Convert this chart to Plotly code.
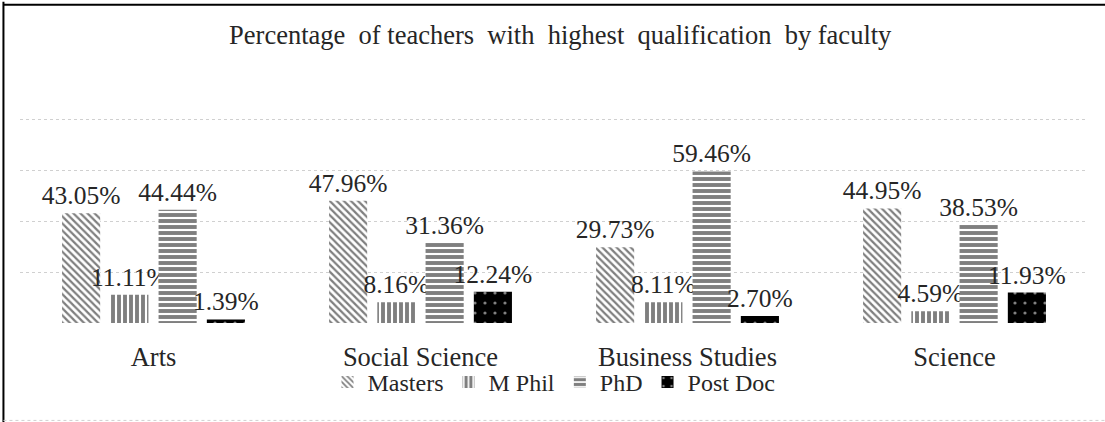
import plotly.graph_objects as go

categories = ["Arts", "Social Science", "Business Studies", "Science"]
series_names = ["Masters", "M Phil", "PhD", "Post Doc"]
masters = [43.05, 47.96, 29.73, 44.95]
mphil = [11.11, 8.16, 8.11, 4.59]
phd = [44.44, 31.36, 59.46, 38.53]
postdoc = [1.39, 12.24, 2.70, 11.93]
values = [masters, mphil, phd, postdoc]

patterns = [
    dict(shape="\\", size=5, solidity=0.45, fgcolor="black", bgcolor="white"),
    dict(shape="|", size=6, solidity=0.65, fgcolor="black", bgcolor="white"),
    dict(shape="-", size=6, solidity=0.65, fgcolor="black", bgcolor="white"),
    dict(shape=".", size=10, solidity=0.08, fgcolor="white", bgcolor="black"),
]

FONT = "Liberation Serif, Times New Roman, serif"
TXT = "#262626"

fig = go.Figure()
for name, vals, pat in zip(series_names, values, patterns):
    fig.add_trace(go.Bar(
        name=name, x=categories, y=vals,
        marker=dict(color="black", pattern=pat, line=dict(width=0)),
        text=[f"{v:.2f}%" for v in vals],
        textposition="outside",
        constraintext="none",
        textfont=dict(family=FONT, size=25.5, color=TXT),
        cliponaxis=False,
    ))

fig.update_layout(
    width=1105, height=422,
    margin=dict(l=20, r=17, t=68, b=99),
    paper_bgcolor="white", plot_bgcolor="white",
    barmode="group", bargap=0.277, bargroupgap=0.21,
    font=dict(family=FONT, color=TXT),
    title=dict(text="Percentage  of teachers  with  highest  qualification  by faculty",
               x=0.507, xref="container", y=0.918, yref="container", yanchor="middle",
               font=dict(family=FONT, size=26.5, color=TXT)),
    showlegend=True,
    legend=dict(orientation="h", x=0.5, xanchor="center", y=-0.145, yanchor="top",
                font=dict(family=FONT, size=24, color=TXT),
                itemwidth=30, tracegroupgap=0, bgcolor="rgba(0,0,0,0)"),
)
fig.update_yaxes(range=[0, 100], dtick=20, showticklabels=False, showgrid=True,
                 gridcolor="#d0d0d0", griddash="dot", gridwidth=1, zeroline=False,
                 showline=False, fixedrange=True)
fig.update_xaxes(showgrid=False, showline=False, ticks="", ticklabelstandoff=15,
                 tickfont=dict(family=FONT, size=26.5, color=TXT))

# chart border (left/top black, bottom light dotted)
fig.add_shape(type="line", xref="paper", yref="paper", x0=-0.0155, x1=-0.0155,
              y0=-0.4, y1=1.26, line=dict(color="black", width=2), layer="above")
fig.add_shape(type="line", xref="paper", yref="paper", x0=-0.0155, x1=1.02,
              y0=1.248, y1=1.248, line=dict(color="black", width=2), layer="above")
fig.add_shape(type="line", xref="paper", yref="paper", x0=-0.0155, x1=1.02,
              y0=-0.382, y1=-0.382, line=dict(color="#d0d0d0", width=1, dash="dot"))

fig.write_html("out.html", config={"displayModeBar": False},
               post_script="document.body.style.margin='0';")
